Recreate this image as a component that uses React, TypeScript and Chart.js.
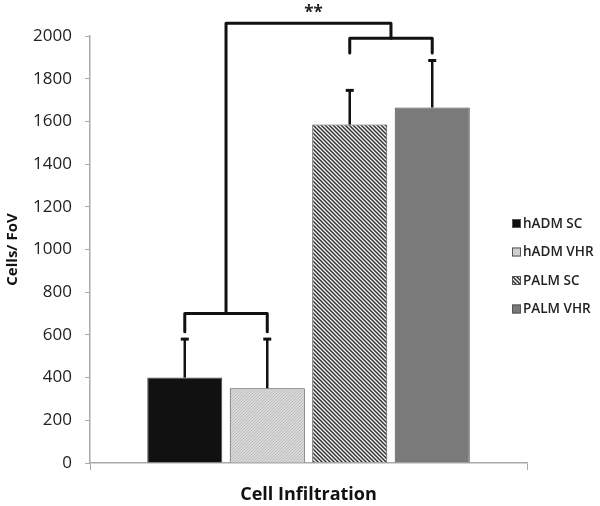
import React, { useEffect, useRef } from "react";
import { Chart, registerables } from "chart.js";
Chart.register(...registerables);

const categories = ["Cell Infiltration"];
const seriesNames = ["hADM SC", "hADM VHR", "PALM SC", "PALM VHR"];
const meanValues = [400, 350, 1585, 1665];
const errorPlus = [185, 235, 165, 225];
// brackets: [leftSeries, rightSeries, level, dropTo]
const lowerBracket = [0, 1, 700, 615];
const upperBracket = [2, 3, 1990, 1920];
const topBracketLevel = 2060;
const significance = "**";
const yMin = 0;
const yMax = 2000;
const yStep = 200;

const FONT = "'Open Sans', 'DejaVu Sans', sans-serif";

function makeHatch(): CanvasPattern | string {
  const c = document.createElement("canvas");
  c.width = 4;
  c.height = 4;
  const g = c.getContext("2d");
  if (!g) return "#666";
  g.fillStyle = "#f4f4f4";
  g.fillRect(0, 0, 4, 4);
  g.strokeStyle = "#333";
  g.lineWidth = 1.5;
  g.beginPath();
  g.moveTo(-1, -1);
  g.lineTo(5, 5);
  g.moveTo(-1, 3);
  g.lineTo(1, 5);
  g.moveTo(3, -1);
  g.lineTo(5, 1);
  g.stroke();
  return g.createPattern(c, "repeat") || "#666";
}

function makeStipple(): CanvasPattern | string {
  const c = document.createElement("canvas");
  c.width = 3;
  c.height = 3;
  const g = c.getContext("2d");
  if (!g) return "#d0d0d0";
  g.fillStyle = "#d8d8d8";
  g.fillRect(0, 0, 3, 3);
  g.fillStyle = "#bdbdbd";
  g.fillRect(0, 0, 1, 1);
  g.fillRect(2, 1, 1, 1);
  g.fillRect(1, 2, 1, 1);
  return g.createPattern(c, "repeat") || "#d0d0d0";
}

const errorBarPlugin = {
  id: "errorBars",
  afterDatasetsDraw(chart: any) {
    const ctx = chart.ctx;
    const y = chart.scales.y;
    ctx.save();
    ctx.strokeStyle = "#111";
    ctx.lineWidth = 2.5;
    chart.data.datasets.forEach((ds: any, i: number) => {
      const meta = chart.getDatasetMeta(i);
      const bar = meta.data[0];
      if (!bar) return;
      const top = y.getPixelForValue(ds.data[0] + errorPlus[i]);
      ctx.beginPath();
      ctx.moveTo(bar.x, bar.y);
      ctx.lineTo(bar.x, top);
      ctx.stroke();
      ctx.beginPath();
      ctx.moveTo(bar.x - 4, top + 1);
      ctx.lineTo(bar.x + 4, top + 1);
      ctx.lineWidth = 3;
      ctx.stroke();
      ctx.lineWidth = 2.5;
    });
    ctx.restore();
  },
};

const bracketPlugin = {
  id: "brackets",
  afterDraw(chart: any) {
    const ctx = chart.ctx;
    const y = chart.scales.y;
    const xs = chart.data.datasets.map((_: any, i: number) => chart.getDatasetMeta(i).data[0].x);
    ctx.save();
    ctx.strokeStyle = "#111";
    ctx.lineWidth = 3;
    ctx.lineJoin = "round";
    ctx.lineCap = "round";
    const drawBracket = (b: number[]) => {
      const xl = xs[b[0]];
      const xr = xs[b[1]];
      const lv = y.getPixelForValue(b[2]);
      const dr = y.getPixelForValue(b[3]);
      ctx.beginPath();
      ctx.moveTo(xl, dr);
      ctx.lineTo(xl, lv);
      ctx.lineTo(xr, lv);
      ctx.lineTo(xr, dr);
      ctx.stroke();
      return { mid: (xl + xr) / 2, lv };
    };
    const a = drawBracket(lowerBracket);
    const b = drawBracket(upperBracket);
    const top = y.getPixelForValue(topBracketLevel);
    ctx.beginPath();
    ctx.moveTo(a.mid, a.lv);
    ctx.lineTo(a.mid, top);
    ctx.lineTo(b.mid, top);
    ctx.lineTo(b.mid, b.lv);
    ctx.stroke();
    ctx.fillStyle = "#222";
    ctx.font = "bold 17px " + FONT;
    ctx.textAlign = "center";
    ctx.textBaseline = "middle";
    ctx.fillText(significance, (a.mid + b.mid) / 2 + 5, top - 10);
    ctx.restore();
  },
};

const legendPlugin = {
  id: "sideLegend",
  afterDraw(chart: any) {
    const ctx = chart.ctx;
    ctx.save();
    ctx.font = "600 13.5px " + FONT;
    ctx.textBaseline = "middle";
    ctx.textAlign = "left";
    chart.data.datasets.forEach((ds: any, i: number) => {
      const cy = 224 + i * 28.5;
      ctx.fillStyle = ds.backgroundColor;
      ctx.fillRect(512, cy - 5, 9, 9);
      ctx.strokeStyle = "#555";
      ctx.lineWidth = 1;
      ctx.strokeRect(512.5, cy - 4.5, 8, 8);
      ctx.fillStyle = "#222";
      ctx.fillText(ds.label, 523, cy);
    });
    ctx.restore();
  },
};

export default function App() {
  const ref = useRef<HTMLCanvasElement | null>(null);
  useEffect(() => {
    document.body.style.margin = "0";
    const canvas = ref.current;
    if (!canvas) return;
    const fills = ["#111111", makeStipple(), makeHatch(), "#7a7a7a"];
    const chart = new Chart(canvas, {
      type: "bar",
      data: {
        labels: categories,
        datasets: seriesNames.map((name, i) => ({
          label: name,
          data: [meanValues[i]],
          backgroundColor: fills[i] as any,
          borderColor: "#4a4a4a",
          borderWidth: 1,
          categoryPercentage: 0.755,
          barPercentage: 0.91,
        })),
      },
      options: {
        animation: false,
        responsive: false,
        maintainAspectRatio: false,
        layout: { padding: { top: 36, right: 73, bottom: 0, left: 0 } },
        plugins: {
          legend: { display: false },
          tooltip: { enabled: false },
        },
        scales: {
          x: {
            type: "category",
            grid: {
              display: true,
              drawOnChartArea: false,
              drawTicks: true,
              tickLength: 7,
              color: "#aaaaaa",
              offset: true,
            },
            border: { color: "#aaaaaa", width: 1.5 },
            ticks: { display: false },
            title: {
              display: true,
              text: "Cell Infiltration",
              color: "#111",
              font: { family: FONT, size: 18, weight: "bold" },
              padding: { top: 2, bottom: 0 },
            },
            afterFit: (s: any) => {
              s.height = 43;
            },
          },
          y: {
            min: yMin,
            max: yMax,
            grid: {
              display: true,
              drawOnChartArea: false,
              drawTicks: true,
              tickLength: 5,
              color: "#aaaaaa",
            },
            border: { color: "#aaaaaa", width: 1.5 },
            ticks: {
              stepSize: yStep,
              color: "#222",
              padding: 13,
              font: { family: FONT, size: 17 },
              callback: (v: any) => String(v),
            },
            title: {
              display: true,
              text: "Cells/ FoV",
              color: "#111",
              font: { family: FONT, size: 15, weight: "bold" },
              padding: { top: 4, bottom: 0 },
            },
            afterFit: (s: any) => {
              s.width = 90;
            },
          },
        },
      },
      plugins: [errorBarPlugin, bracketPlugin, legendPlugin],
    });
    return () => chart.destroy();
  }, []);
  return (
    <div style={{ width: 600, height: 506 }}>
      <canvas ref={ref} width={600} height={506} style={{ display: "block" }} />
    </div>
  );
}
